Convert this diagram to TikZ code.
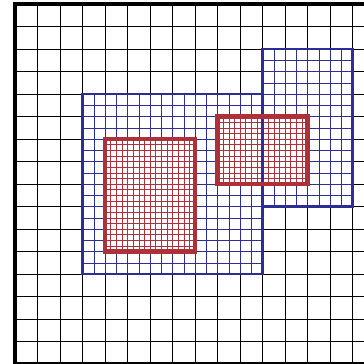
\documentclass[tikz,border=0pt]{standalone}
\usepackage{tikz}
\definecolor{levelA}{RGB}{45,45,150}
\definecolor{levelB}{RGB}{176,48,58}
\newcommand{\patchgrid}[4]{%
  % #1 = lower left, #2 = upper right, #3 = cell size, #4 = colour
  \fill[white] #1 rectangle #2;
  \draw[#4, line width=0.45pt, step=#3] #1 grid #2;
}
\newcommand{\patchedge}[4]{%
  % #1 = lower left, #2 = upper right, #3 = colour, #4 = width
  \draw[#3, line width=#4] #1 rectangle #2;
}

\begin{document}
\begin{tikzpicture}
\useasboundingbox (-0.667,0) rectangle (15.511,16.178);

% --- level 0: whole domain -------------------------------------------------
\draw[black, line width=0.5pt, step=1] (0,0) grid (16,16);

% --- level 1: blue patches -------------------------------------------------
\patchgrid{(3,4)}{(11,12)}{0.5}{levelA}
\patchgrid{(11,7)}{(15,14)}{0.5}{levelA}

% --- level 2: red patches --------------------------------------------------
\patchgrid{(4,5)}{(8,10)}{0.25}{levelB}
\patchgrid{(9,8)}{(13,11)}{0.25}{levelB}

% outlines on top
\patchedge{(3,4)}{(11,12)}{levelA}{3pt}
\patchedge{(11,7)}{(15,14)}{levelA}{3pt}
\patchedge{(4,5)}{(8,10)}{levelB}{5.5pt}
\patchedge{(9,8)}{(13,11)}{levelB}{5.5pt}

\draw[black, line width=4.4pt] (0,0) rectangle (16,16);

\end{tikzpicture}
\end{document}
